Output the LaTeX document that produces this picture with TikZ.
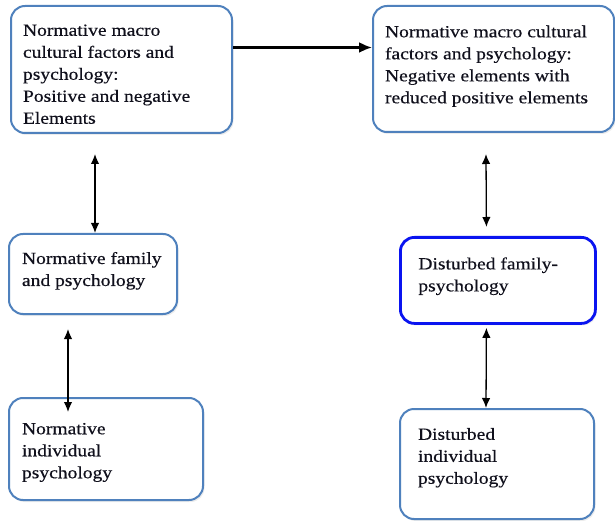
\documentclass[tikz,border=0pt]{standalone}
\usepackage{fontspec}
\setmainfont{Liberation Serif}[FakeStretch=1.15,FakeBold=0.4]
\usetikzlibrary{arrows.meta,shadows}

\definecolor{panelblue}{HTML}{4F81BD}
\definecolor{brightblue}{HTML}{0A14F0}
\definecolor{inktext}{HTML}{10101C}

% width, height, gap above first line, text
\newcommand{\paneltext}[4]{\parbox[c][#2][t]{#1}{\raggedright\vspace*{#3}#4}}

\tikzset{
  panel/.style={draw=panelblue, line width=2pt, rounded corners=14pt, fill=white,
    drop shadow={shadow xshift=1.5pt, shadow yshift=-2pt, opacity=0.15},
    anchor=north west, inner ysep=0pt, inner xsep=12pt, text=inktext,
    font=\fontsize{17}{22}\selectfont},
  link/.style={line width=1.3pt, {Latex[length=10pt,width=8.5pt]}-{Latex[length=10pt,width=8.5pt]}},
  flow/.style={line width=2.2pt, -{Latex[length=13pt,width=11pt]}}
}

\begin{document}
\begin{tikzpicture}[x=1pt,y=-1pt]
	\useasboundingbox (0,0) rectangle (615,521);

	% macro level
	\node[panel] (macroN) at (10,5) {\paneltext{197pt}{127pt}{18.5pt}{Normative macro\\ cultural factors and\\ psychology:\\ Positive and negative\\ Elements}};
	\node[panel] (macroD) at (372,5) {\paneltext{217pt}{126pt}{19.5pt}{Normative macro cultural\\ factors and psychology:\\ Negative elements with\\ reduced positive elements}};

	% family level
	\node[panel, inner xsep=13pt] (familyN) at (8,233) {\paneltext{142pt}{80pt}{18pt}{Normative family\\ and psychology}};
	\node[panel, inner xsep=18pt, draw=brightblue, line width=2.8pt] (familyD) at (399,236) {\paneltext{159pt}{86pt}{20pt}{Disturbed family-\\ psychology}};

	% individual level
	\node[panel, inner xsep=13pt] (indivN) at (8,397) {\paneltext{168pt}{102pt}{25pt}{Normative\\ individual\\ psychology}};
	\node[panel, inner xsep=18pt] (indivD) at (399,408) {\paneltext{158pt}{110pt}{19pt}{Disturbed\\ individual\\ psychology}};

	\draw[flow] ([yshift=22pt]macroN.east) -- ([yshift=22pt]macroN.east -| macroD.west);

	\draw[link] ([xshift=2pt,yshift=-20pt]macroN.south -| familyN.north) -- ([xshift=2pt]familyN.north);
	\draw[link] ([xshift=-25pt,yshift=-14pt]familyN.south) -- ([xshift=-38pt,yshift=-15pt]indivN.north);

	\draw[link] ([xshift=-7.5pt,yshift=-21pt]macroD.south) -- ([xshift=-11.5pt,yshift=9pt]familyD.north);
	\draw[link] ([xshift=-11.5pt,yshift=-3pt]familyD.south) -- ([xshift=-11pt]indivD.north);
\end{tikzpicture}
\end{document}
